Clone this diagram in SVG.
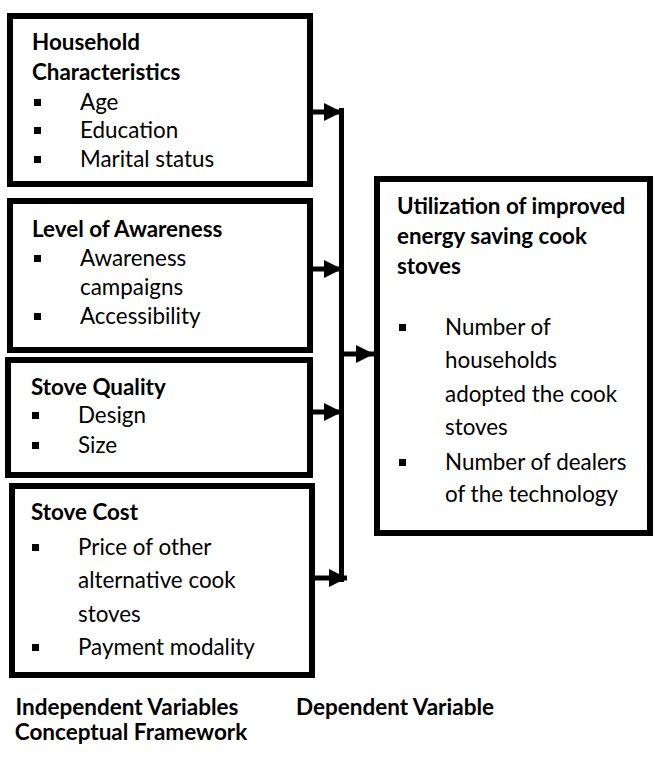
<svg xmlns="http://www.w3.org/2000/svg" width="656" height="758" viewBox="0 0 656 758">
<style>
.box{fill:#fff;stroke:#000;stroke-width:6}
.t{font-family:Lato,"Liberation Sans",sans-serif;font-size:22.4px;fill:#000}
.b{font-weight:bold}
.cap{font-family:Lato,"Liberation Sans",sans-serif;font-size:22.5px;font-weight:bold;fill:#000}
.bl{fill:#000}
.c{stroke:#000;stroke-width:5;fill:none}
</style>
<defs>
<marker id="ah" markerUnits="userSpaceOnUse" markerWidth="18" markerHeight="18" viewBox="0 0 16 16" refX="16" refY="8" orient="auto">
<path d="M0,0 L16,8 L0,16 Z" fill="#000"/>
</marker>
</defs>
<rect width="656" height="758" fill="#fff"/>
<g id="household">
<rect class="box" x="10" y="16" width="300" height="168"/>
<text class="t b" x="32" y="50">Household</text>
<text class="t b" x="32" y="80">Characteristics</text>
<rect class="bl" x="34" y="99" width="7" height="7"/><text class="t" x="80" y="110">Age</text>
<rect class="bl" x="34" y="127" width="7" height="7"/><text class="t" x="80" y="138">Education</text>
<rect class="bl" x="34" y="156" width="7" height="7"/><text class="t" x="80" y="167">Marital status</text>
</g>
<g id="awareness">
<rect class="box" x="10" y="201" width="300" height="149"/>
<text class="t b" x="32" y="237">Level of Awareness</text>
<rect class="bl" x="34" y="255" width="7" height="7"/><text class="t" x="80" y="266">Awareness</text>
<text class="t" x="80" y="295">campaigns</text>
<rect class="bl" x="34" y="313" width="7" height="7"/><text class="t" x="80" y="324">Accessibility</text>
</g>
<g id="quality">
<rect class="box" x="8" y="360" width="302" height="115"/>
<text class="t b" x="31" y="395">Stove Quality</text>
<rect class="bl" x="32" y="412" width="7" height="7"/><text class="t" x="78" y="423">Design</text>
<rect class="bl" x="32" y="442" width="7" height="7"/><text class="t" x="78" y="453">Size</text>
</g>
<g id="cost">
<rect class="box" x="12" y="486" width="300" height="189"/>
<text class="t b" x="31" y="520">Stove Cost</text>
<rect class="bl" x="32" y="544" width="7" height="7"/><text class="t" x="78" y="555">Price of other</text>
<text class="t" x="78" y="588">alternative cook</text>
<text class="t" x="78" y="622">stoves</text>
<rect class="bl" x="32" y="644" width="7" height="7"/><text class="t" x="78" y="655">Payment modality</text>
</g>
<g id="utilization">
<rect class="box" x="377" y="179" width="273" height="354"/>
<text class="t b" x="397" y="214">Utilization of improved</text>
<text class="t b" x="397" y="244">energy saving cook</text>
<text class="t b" x="397" y="274">stoves</text>
<rect class="bl" x="399" y="324" width="7" height="7"/><text class="t" x="445" y="335">Number of</text>
<text class="t" x="445" y="368">households</text>
<text class="t" x="445" y="402">adopted the cook</text>
<text class="t" x="445" y="435">stoves</text>
<rect class="bl" x="399" y="459" width="7" height="7"/><text class="t" x="445" y="470">Number of dealers</text>
<text class="t" x="445" y="502">of the technology</text>
</g>
<g id="connectors">
<line class="c" x1="341.5" y1="108" x2="341.5" y2="582"/>
<line class="c" x1="313" y1="112" x2="342" y2="112" marker-end="url(#ah)"/>
<line class="c" x1="313" y1="269" x2="342" y2="269" marker-end="url(#ah)"/>
<line class="c" x1="313" y1="412" x2="342" y2="412" marker-end="url(#ah)"/>
<line class="c" x1="315" y1="578" x2="347" y2="578" marker-end="url(#ah)"/>
<line class="c" x1="344" y1="354" x2="374" y2="354" marker-end="url(#ah)"/>
</g>
<g id="captions">
<text class="cap" x="127" y="715" text-anchor="middle">Independent Variables</text>
<text class="cap" x="131" y="740" text-anchor="middle">Conceptual Framework</text>
<text class="cap" x="296" y="715">Dependent Variable</text>
</g>
</svg>
